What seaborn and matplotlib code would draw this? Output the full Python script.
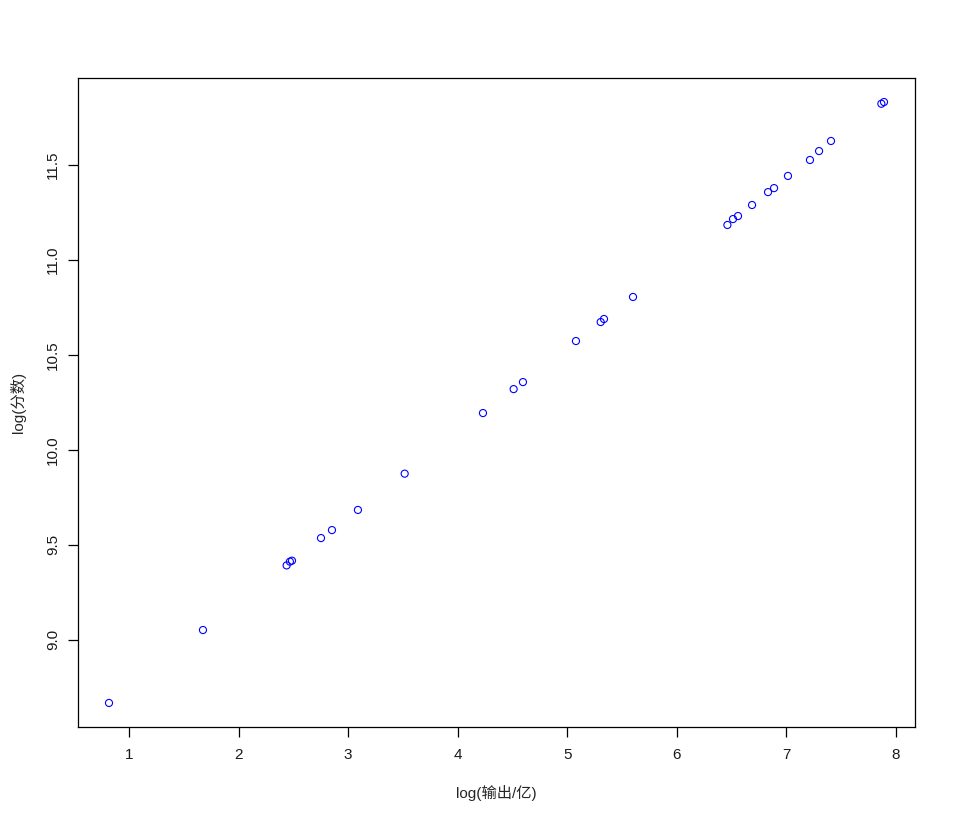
import matplotlib
matplotlib.use("Agg")
import matplotlib.pyplot as plt
import pandas as pd
import seaborn as sns

# log(输出/亿) and log(分数)
log_output = [0.816, 1.674, 2.438, 2.468, 2.487, 2.752, 2.852, 3.089, 3.516,
              4.231, 4.511, 4.596, 5.080, 5.306, 5.336, 5.601,
              6.463, 6.514, 6.560, 6.688, 6.834, 6.889, 7.016,
              7.217, 7.300, 7.409, 7.869, 7.893]
log_score = [8.667, 9.051, 9.391, 9.411, 9.416, 9.535, 9.577, 9.683, 9.874,
             10.193, 10.319, 10.356, 10.572, 10.672, 10.688, 10.804,
             11.183, 11.214, 11.230, 11.288, 11.356, 11.377, 11.441,
             11.525, 11.572, 11.625, 11.821, 11.830]

x_ticks = [1, 2, 3, 4, 5, 6, 7, 8]
y_ticks = [9.0, 9.5, 10.0, 10.5, 11.0, 11.5]

df = pd.DataFrame({"x": log_output, "y": log_score})

sns.set_theme(style="white")
plt.rcParams["font.family"] = ["Liberation Sans", "Noto Sans CJK SC", "DejaVu Sans"]

fig = plt.figure(figsize=(9.56, 8.25), dpi=100)
ax = fig.add_axes([78 / 956, 1 - 727 / 825, (915 - 78) / 956, (727 - 78) / 825])

sns.scatterplot(data=df, x="x", y="y", ax=ax, marker="o", s=26,
                facecolor="none", edgecolor="blue", linewidth=0.8)

# R-style 4% padding around data range
xr = max(log_output) - min(log_output)
yr = max(log_score) - min(log_score)
ax.set_xlim(min(log_output) - 0.04 * xr, max(log_output) + 0.04 * xr)
ax.set_ylim(min(log_score) - 0.04 * yr, max(log_score) + 0.04 * yr)

ax.set_xticks(x_ticks)
ax.set_xticklabels([str(t) for t in x_ticks])
ax.set_yticks(y_ticks)
ax.set_yticklabels([f"{t:.1f}" for t in y_ticks], rotation=90, va="center")

for s in ax.spines.values():
    s.set_color("black")
    s.set_linewidth(0.9)
ax.tick_params(axis="both", direction="out", length=7, width=0.9,
               color="black", labelsize=11, labelcolor="#1a1a1a",
               bottom=True, left=True)
ax.tick_params(axis="x", pad=8)
ax.tick_params(axis="y", pad=6)

ax.set_xlabel("log(输出/亿)", fontsize=11, labelpad=17)
ax.set_ylabel("log(分数)", fontsize=11, labelpad=14)

fig.savefig("out.png", dpi=100, facecolor="white")
